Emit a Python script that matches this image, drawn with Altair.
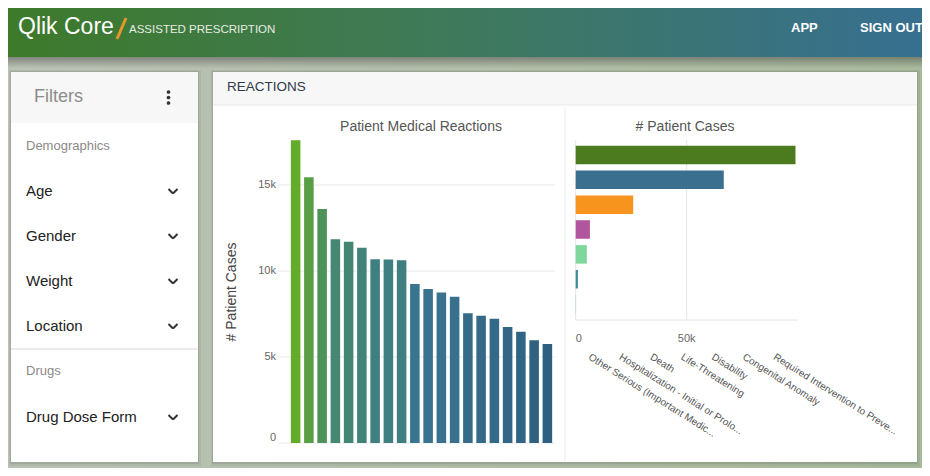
import altair as alt
import pandas as pd

# ---------------- data ----------------
reaction_rank = [str(i) for i in range(1, 21)]
reaction_cases = [17600, 15450, 13600, 11850, 11700, 11350, 10680, 10670, 10620, 9250,
                  8950, 8750, 8500, 7550, 7400, 7230, 6750, 6470, 5970, 5750]

outcome_labels = ["Other Serious (Important Medic...", "Hospitalization - Initial or Prolo...",
                  "Death", "Life-Threatening", "Disability", "Congenital Anomaly",
                  "Required Intervention to Preve..."]
outcome_cases = [99000, 66700, 25900, 6400, 5000, 1000, 150]
outcome_colors = ["#4b7a1f", "#3b6f8f", "#f7941d", "#b0559e", "#7ed79b", "#3f8c9c", "#9fc5d3"]

y_tick_values = [0, 5000, 10000, 15000]
y_tick_labels = ["0", "5k", "10k", "15k"]
x_tick_values = [0, 50000]
x_tick_labels = ["0", "50k"]

filter_items = ["Age", "Gender", "Weight", "Location"]
drug_items = ["Drug Dose Form"]

FONT = "Liberation Sans"
OFF = 8  # page margin: reference px -> chart px


def P(v):
    return v - OFF


blank = alt.Data(values=[{}])


def rect(x, y, x2, y2, fill, opacity=1, **kw):
    return alt.Chart(blank).mark_rect(fill=fill, opacity=opacity, **kw).encode(
        x=alt.value(P(x)), x2=alt.value(P(x2)), y=alt.value(P(y)), y2=alt.value(P(y2)))


def line(x, y, x2, y2, color, width=1, opacity=1):
    return alt.Chart(blank).mark_rule(color=color, strokeWidth=width, opacity=opacity).encode(
        x=alt.value(P(x)), x2=alt.value(P(x2)), y=alt.value(P(y)), y2=alt.value(P(y2)))


def label(txt, x, y, size, color, align="left", baseline="middle", weight="normal", angle=0):
    return alt.Chart(blank).mark_text(
        text=txt, align=align, baseline=baseline, fontSize=size, color=color,
        font=FONT, fontWeight=weight, angle=angle).encode(x=alt.value(P(x)), y=alt.value(P(y)))


layers = []

# background
layers.append(rect(0, 50, 938, 484, {"gradient": "linear", "x1": 0, "x2": 1, "y1": 0, "y2": 0,
                                      "stops": [{"offset": 0, "color": "#bac2b5"},
                                                {"offset": 1, "color": "#a8ba9c"}]}))
# header shadow
layers.append(rect(0, 57, 938, 68, {"gradient": "linear", "x1": 0, "x2": 0, "y1": 0, "y2": 1,
                                     "stops": [{"offset": 0, "color": "rgba(60,60,60,0.45)"},
                                               {"offset": 1, "color": "rgba(60,60,60,0)"}]}))
# header
layers.append(rect(0, 0, 938, 57, {"gradient": "linear", "x1": 0, "x2": 1, "y1": 0, "y2": 0,
                                    "stops": [{"offset": 0, "color": "#3d7a29"},
                                              {"offset": 0.45, "color": "#3f7a58"},
                                              {"offset": 1, "color": "#376f92"}]}))
layers.append(label("Qlik Core", 18, 34, 23, "#ffffff", baseline="alphabetic"))
layers.append(line(126, 18, 117, 39, "#e8952a", 3))
layers.append(label("ASSISTED PRESCRIPTION", 129, 33, 11.5, "#e6ece4", baseline="alphabetic"))
layers.append(label("APP", 791, 32, 13, "#ffffff", baseline="alphabetic", weight="bold"))
layers.append(label("SIGN OUT", 860, 32, 13, "#ffffff", baseline="alphabetic", weight="bold"))

# panel shadows
for (x0, x1) in [(11, 198), (213, 917)]:
    layers.append(rect(x0 - 2, 70, x1 + 3, 466, "#000000", 0.05))
    layers.append(rect(x0 - 1, 71, x1 + 1, 464, "#000000", 0.08))

# filters panel
layers.append(rect(11, 72, 198, 462, "#ffffff"))
layers.append(rect(11, 72, 198, 123, "#f7f7f7"))
layers.append(label("Filters", 34, 97, 18, "#8c8c8c"))
for dy in (92, 97.5, 103):
    layers.append(alt.Chart(blank).mark_circle(color="#333333", size=14, opacity=1).encode(
        x=alt.value(P(168.5)), y=alt.value(P(dy))))
layers.append(label("Demographics", 26, 146, 13, "#8a8a8a"))
item_y = [191, 236, 281, 326]
for name, yy in zip(filter_items, item_y):
    layers.append(label(name, 26, yy, 15, "#222222"))
layers.append(line(11, 349, 198, 349, "#e4e4e4", 1.5))
layers.append(label("Drugs", 26, 371, 13, "#8a8a8a"))
for name in drug_items:
    layers.append(label(name, 26, 417, 15, "#222222"))
for yy in item_y + [417]:
    layers.append(line(168.5, yy - 2, 173, yy + 2.5, "#333333", 2))
    layers.append(line(173, yy + 2.5, 177.5, yy - 2, "#333333", 2))

# reactions panel
layers.append(rect(213, 72, 917, 462, "#ffffff"))
layers.append(rect(213, 72, 917, 105, "#f7f7f7"))
layers.append(line(213, 105, 917, 105, "#e8e8e8", 1))
layers.append(label("REACTIONS", 227, 87, 13.5, "#2f3a4a"))
layers.append(line(565, 107, 565, 462, "#ececec", 1))

# ---------------- chart 1: Patient Medical Reactions ----------------
df1 = pd.DataFrame({"rank": reaction_rank, "cases": reaction_cases})
ys1 = alt.Scale(domain=[0, 20000], range=[P(443), P(443 - 344)])
xs1 = alt.Scale(domain=reaction_rank, range=[P(289), P(554)], paddingInner=0.28, paddingOuter=0.14)
ticks1 = pd.DataFrame({"v": y_tick_values, "lab": y_tick_labels})

layers.append(alt.Chart(ticks1).mark_rule(color="#e9e9e9", strokeWidth=1).encode(
    y=alt.Y("v:Q", scale=ys1, axis=None), x=alt.value(P(278)), x2=alt.value(P(555))))
layers.append(alt.Chart(ticks1).transform_filter("datum.v > 0").mark_text(
    align="right", baseline="middle", fontSize=11, color="#666666", font=FONT).encode(
    y=alt.Y("v:Q", scale=ys1, axis=None), x=alt.value(P(276)), text="lab:N"))
layers.append(alt.Chart(ticks1).transform_filter("datum.v == 0").mark_text(
    align="right", baseline="middle", fontSize=11, color="#666666", font=FONT, dy=-5).encode(
    y=alt.Y("v:Q", scale=ys1, axis=None), x=alt.value(P(276)), text="lab:N"))
layers.append(alt.Chart(df1).mark_bar().encode(
    x=alt.X("rank:N", sort=reaction_rank, scale=xs1, axis=None),
    y=alt.Y("cases:Q", scale=ys1, axis=None),
    y2=alt.datum(0),
    color=alt.Color("cases:Q", legend=None,
                    scale=alt.Scale(domain=[5700, 9200, 10700, 17600], interpolate="rgb",
                                    range=["#2f5f80", "#3a7590", "#3f7f80", "#63ac2a"]))))
layers.append(label("Patient Medical Reactions", 421, 127, 14, "#555555", align="center"))
layers.append(label("# Patient Cases", 232, 292, 14, "#444444", align="center", angle=270))

# ---------------- chart 2: # Patient Cases ----------------
df2 = pd.DataFrame({"outcome": outcome_labels, "cases": outcome_cases})
xs2 = alt.Scale(domain=[0, 100000], range=[P(575.7), P(797.7)])
ys2 = alt.Scale(domain=outcome_labels, range=[P(142.5), P(316.5)], paddingInner=0.255, paddingOuter=0.1275)
ticks2 = pd.DataFrame({"v": x_tick_values, "lab": x_tick_labels})

layers.append(alt.Chart(ticks2).mark_rule(color="#e6e6e6", strokeWidth=1).encode(
    x=alt.X("v:Q", scale=xs2, axis=None), y=alt.value(P(140)), y2=alt.value(P(320))))
layers.append(line(575.7, 320, 797.7, 320, "#e6e6e6", 1))
layers.append(alt.Chart(ticks2).transform_filter("datum.v == 0").mark_text(
    align="left", baseline="middle", fontSize=11, color="#666666", font=FONT).encode(
    x=alt.X("v:Q", scale=xs2, axis=None), y=alt.value(P(339)), text="lab:N"))
layers.append(alt.Chart(ticks2).transform_filter("datum.v > 0").mark_text(
    align="center", baseline="middle", fontSize=11, color="#666666", font=FONT).encode(
    x=alt.X("v:Q", scale=xs2, axis=None), y=alt.value(P(339)), text="lab:N"))
layers.append(alt.Chart(df2).mark_bar().encode(
    y=alt.Y("outcome:N", sort=outcome_labels, scale=ys2, axis=None),
    x=alt.X("cases:Q", scale=xs2, axis=None),
    x2=alt.datum(0),
    color=alt.Color("outcome:N", legend=None,
                    scale=alt.Scale(domain=outcome_labels, range=outcome_colors))))
layers.append(alt.Chart(df2).mark_text(
    align="left", baseline="top", fontSize=10, color="#555555", font=FONT, angle=32).encode(
    x=alt.X("outcome:N", sort=outcome_labels, axis=None,
            scale=alt.Scale(type="point", domain=outcome_labels, range=[P(592), P(777)], padding=0)),
    y=alt.value(P(352)),
    text="outcome:N"))
layers.append(label("# Patient Cases", 685, 127, 14, "#555555", align="center"))

chart = alt.layer(*layers).resolve_scale(
    x="independent", y="independent", color="independent"
).properties(
    width=914, height=460, autosize=alt.AutoSizeParams(type="none"), padding=0,
    background="#ffffff"
).configure_view(strokeWidth=0)

chart.save("out.html", embed_options={"renderer": "svg", "actions": False})
